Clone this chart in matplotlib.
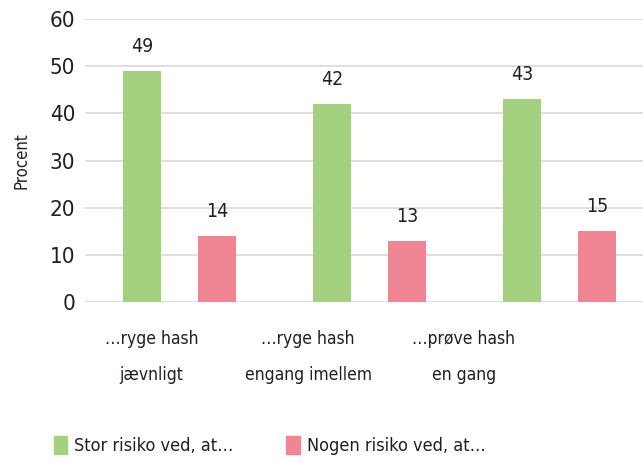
import matplotlib.pyplot as plt
from matplotlib.patches import Patch
import numpy as np

categories = ["\u2026ryge hash\njævnligt", "\u2026ryge hash\nengang imellem", "\u2026prøve hash\nen gang"]
stor = [49, 42, 43]
nogen = [14, 13, 15]
series_names = ["Stor risiko ved, at\u2026", "Nogen risiko ved, at\u2026"]

green = "#a3d180"
pink = "#f08694"
txt = "#231f20"

plt.rcParams['font.family'] = ['DejaVu Sans']
plt.rcParams['font.stretch'] = 'condensed'

fig = plt.figure(figsize=(6.43, 4.62), dpi=100)
ax = fig.add_axes([0.132, 0.346, 0.868, 0.613])

x = np.arange(len(categories))
w = 0.2
b1 = ax.bar(x - 0.197, stor, w, color=green, zorder=3)
b2 = ax.bar(x + 0.197, nogen, w, color=pink, zorder=3)

for bars, vals in ((b1, stor), (b2, nogen)):
    for r, v in zip(bars, vals):
        ax.annotate(str(v), (r.get_x() + r.get_width() / 2, v), xytext=(0, 11),
                    textcoords="offset points", ha="center", va="bottom",
                    fontsize=14, color=txt)

ax.set_ylim(0, 60)
ax.set_yticks(range(0, 61, 10))
ax.set_xlim(-0.5, 2.44)
ax.yaxis.grid(True, color="#d9d9d9", lw=1.2, zorder=0)
for s in ax.spines.values():
    s.set_visible(False)
ax.tick_params(axis="y", length=0, labelsize=16, labelcolor=txt, pad=7)
ax.tick_params(axis="x", length=0, labelsize=12.5, labelcolor=txt, pad=20)
ax.set_xticks([-0.15, 0.676, 1.497])
ax.set_xticklabels(categories, linespacing=2.3)
ax.set_ylabel("Procent", fontsize=12, color=txt, labelpad=14)

handles = [Patch(color=green), Patch(color=pink)]
fig.legend(handles, series_names, loc="lower left", bbox_to_anchor=(0.058, -0.02),
           ncol=2, frameon=False, fontsize=13, handlelength=0.75, handleheight=1.2,
           handletextpad=0.4, columnspacing=2.9, labelcolor=txt)

fig.savefig("out.png", dpi=100)
